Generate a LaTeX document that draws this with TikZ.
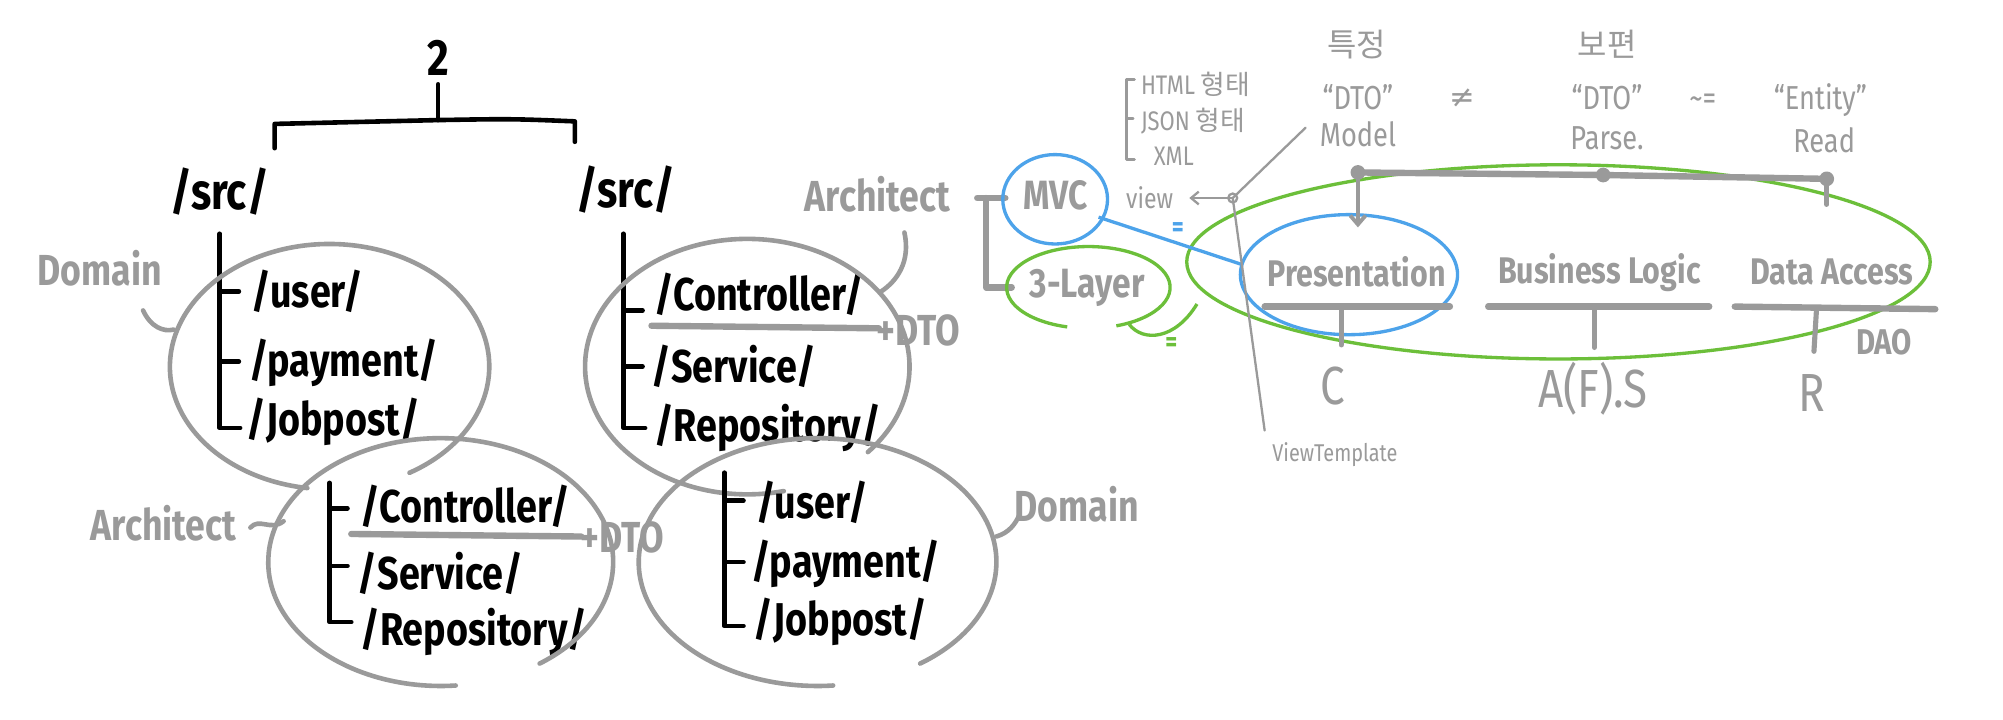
\documentclass[tikz,border=0pt]{standalone}
\usepackage{fontspec}
\setmainfont{Fira Sans}[FakeStretch=0.82]
\newfontfamily\kr{Noto Sans CJK KR}
\newfontfamily\dv{DejaVu Sans}
\usetikzlibrary{arrows.meta}
\definecolor{gc}{HTML}{9A9A9A}
\definecolor{bc}{HTML}{4DA3EA}
\definecolor{grc}{HTML}{6CBF3A}
\tikzset{
  bl/.style={line width=3.6pt, line cap=round, line join=round, black},
  gl/.style={line width=3.6pt, line cap=round, line join=round, gc},
  gthick/.style={line width=5pt, line cap=round, line join=round, gc},
  gthin/.style={line width=1.8pt, line cap=round, line join=round, gc},
  tree/.style={font=\bfseries\fontsize{36}{36}\selectfont, anchor=west, inner sep=0pt, text=black},
  biglab/.style={font=\bfseries\fontsize{34}{34}\selectfont, inner sep=0pt, text=gc},
  lay/.style={font=\bfseries\fontsize{29}{29}\selectfont, inner sep=0pt, text=gc},
  sm/.style={font=\fontsize{21}{21}\selectfont, inner sep=0pt, text=gc},
  hd/.style={font=\fontsize{26}{26}\selectfont, inner sep=0pt, text=gc},
  letter/.style={font=\fontsize{42}{42}\selectfont, inner sep=0pt, text=gc},
}
\begin{document}
\begin{tikzpicture}[x=1pt,y=-1pt]
\useasboundingbox[fill=white] (0,0) rectangle (1568,563);

% ---------------- top bracket ----------------
\node[font=\bfseries\fontsize{40}{40}\selectfont, inner sep=0pt] (two) at (343,45) {2};
\coordinate (brTop) at (343,66);
\coordinate (brMid) at (343,94);
\coordinate (brL) at (215,97);
\coordinate (brR) at (450,95);
\draw[bl] (brTop) -- (brMid);
\draw[bl] ([yshift=-19pt]brL) -- (brL) -- (brMid) .. controls (400,93) .. (brR) -- ([yshift=-16pt]brR);

\node[font=\bfseries\fontsize{40}{40}\selectfont, inner sep=0pt] (srcL) at (172,150) {/src/};
\node[font=\bfseries\fontsize{40}{40}\selectfont, inner sep=0pt] (srcR) at (490,148) {/src/};

% ---------------- left-top tree (Domain) ----------------
\draw[bl] (172,183) -- (172,335) -- (188,335);
\draw[bl] (172,228) -- (187,228);
\draw[bl] (172,283) -- (187,283);
\node[tree] (u1) at (197,228) {/user/};
\node[tree] (p1) at (195,284) {/payment/};
\node[tree] (j1) at (193,330) {/Jobpost/};
\draw[gl] ([shift={(-60:125pt and 96pt)}]258,287) arc[start angle=-60, end angle=262, x radius=125pt, y radius=96pt];
\node[biglab] (dom1) at (78,210) {Domain};
\draw[gl] (112,243) .. controls (118,256) and (128,260) .. (136,258);

% ---------------- right-top tree (Architect) ----------------
\draw[bl] (488,183) -- (488,335) -- (505,335);
\draw[bl] (488,243) -- (503,243);
\draw[bl] (488,287) -- (503,287);
\node[tree] (c1) at (512,230) {/Controller/};
\node[tree] (s1) at (510,287) {/Service/};
\node[tree] (r1) at (512,335) {/Repository/};
\draw[gthick] (510,255) -- (688,257);
\node[biglab, anchor=west] (dto1) at (686,259) {+DTO};
\draw[gl] ([shift={(-42:127pt and 100pt)}]585,287) arc[start angle=-42, end angle=283, x radius=127pt, y radius=100pt];
\node[biglab] (arch1) at (687,152) {Architect};
\draw[gl] (708,182) .. controls (713,205) and (702,220) .. (690,228);

% ---------------- left-bottom tree (Architect) ----------------
\draw[bl] (258,378) -- (258,487) -- (275,487);
\draw[bl] (258,398) -- (272,398);
\draw[bl] (258,443) -- (272,443);
\node[tree] (c2) at (282,396) {/Controller/};
\node[tree] (s2) at (280,449) {/Service/};
\node[tree] (r2) at (282,495) {/Repository/};
\draw[gthick] (275,418) -- (455,420);
\node[biglab, anchor=west] (dto2) at (454,421) {+DTO};
\draw[gl] ([shift={(-55:135pt and 97pt)}]345,440) arc[start angle=-55, end angle=275, x radius=135pt, y radius=97pt];
\node[biglab] (arch2) at (128,410) {Architect};
\draw[gl] (196,413) .. controls (203,405) and (212,416) .. (222,408);

% ---------------- right-bottom tree (Domain) ----------------
\draw[bl] (567,370) -- (567,490) -- (582,490);
\draw[bl] (567,392) -- (582,392);
\draw[bl] (567,440) -- (582,440);
\node[tree] (u2) at (592,393) {/user/};
\node[tree] (p2) at (588,441) {/payment/};
\node[tree] (j2) at (590,487) {/Jobpost/};
\draw[gl] ([shift={(-55:140pt and 97pt)}]640,440) arc[start angle=-55, end angle=275, x radius=140pt, y radius=97pt];
\node[biglab] (dom2) at (843,395) {Domain};
\draw[gl] (780,420) .. controls (790,417) and (795,410) .. (798,403);

% ---------------- right part ----------------
\draw[gthick] (765,155) -- (787,155);
\draw[gthick] (772,155) -- (772,225) -- (792,225);

\node[biglab, font=\bfseries\fontsize{32}{32}\selectfont] (mvc) at (826,153) {MVC};
\draw[line width=2.6pt, bc] (826,156) ellipse [x radius=41pt, y radius=35pt];
\node[biglab, font=\bfseries\fontsize{32}{32}\selectfont] (tl) at (851,225) {3-Layer};
\draw[line width=2.6pt, grc] ([shift={(-70:64pt and 32pt)}]852,225) arc[start angle=-70, end angle=255, x radius=64pt, y radius=32pt];
\draw[line width=2.6pt, grc] (884,254) .. controls (895,268) and (920,266) .. (937,238);

\draw[line width=2.6pt, grc] (1220,205) ellipse [x radius=291pt, y radius=76pt];
\draw[line width=2.6pt, bc] (1056,215) ellipse [x radius=85pt, y radius=47pt];
\draw[line width=2.6pt, bc] (860,170) -- (972,207);
\node[font=\bfseries\fontsize{22}{22}\selectfont, text=bc, inner sep=0pt] (eqb) at (922,180) {=};
\node[font=\bfseries\fontsize{22}{22}\selectfont, text=grc, inner sep=0pt] (eqg) at (917,270) {=};

\node[sm, font=\fontsize{22}{22}\selectfont] (view) at (900,155) {view};
\coordinate (hub) at (965,155);
\draw[gthin] (hub) circle (3.5pt);
\draw[gthin, -{Straight Barb[length=6pt,width=10pt]}] (hub) -- (931,155);
\draw[gthin] (hub) -- (1022,100);
\draw[gthin] (hub) -- (990,337);
\node[sm, font=\fontsize{19}{19}\selectfont] (vt) at (1045,356) {ViewTemplate};

\draw[gthin, line width=2.2pt] (888,62) -- (882,62) -- (882,125) -- (888,125);
\draw[gthin, line width=2.2pt] (882,93) -- (887,93);
\node[sm, anchor=west] (html) at (893,66) {HTML {\kr 형태}};
\node[sm, anchor=west] (json) at (893,95) {JSON {\kr 형태}};
\node[sm, anchor=west] (xml) at (903,122) {XML};

\node[hd, font=\kr\fontsize{25}{25}\selectfont] (tj) at (1062,35) {특정};
\node[hd, font=\kr\fontsize{25}{25}\selectfont] (bp) at (1258,35) {보편};
\node[hd] (dto3) at (1063,76) {“DTO”};
\node[hd, font=\dv\fontsize{24}{24}\selectfont] (neq) at (1145,77) {≠};
\node[hd] (dto4) at (1258,76) {“DTO”};
\node[hd] (apx) at (1333,80) {\char`\~=};
\node[hd] (ent) at (1425,78) {“Entity”};
\node[hd] (model) at (1063,105) {Model};
\node[hd] (parse) at (1258,108) {Parse.};
\node[hd] (read) at (1428,110) {Read};

\coordinate (k1) at (1063,135);
\coordinate (k2) at (1255,137);
\coordinate (k3) at (1430,140);
\draw[gthick] (k1) -- (k2) -- (k3);
\foreach \k in {k1,k2,k3} \draw[gthin, line width=2.5pt, fill=gc] (\k) circle (4.5pt);
\draw[gthin, line width=3pt, -{Straight Barb[length=7pt,width=12pt]}] (k1) -- (1063,178);
\draw[gthick, line width=4pt] (k3) -- (1430,160);

\node[lay] (pres) at (1062,213) {Presentation};
\node[lay] (bus) at (1252,213) {Business Logic};
\node[lay] (da) at (1434,213) {Data Access};
\draw[gthick] (990,240) -- (1135,240);
\draw[gthick] (1165,240) -- (1338,240);
\draw[gthick] (1358,240) -- (1515,242);
\draw[gthick, line width=4pt] (1050,240) -- (1050,270);
\draw[gthick, line width=4pt] (1248,240) -- (1248,272);
\draw[gthick, line width=4pt] (1422,242) -- (1420,275);
\node[letter] (cC) at (1043,302) {C};
\node[letter] (cS) at (1247,304) {A(F).S};
\node[letter] (cR) at (1418,308) {R};
\node[lay, font=\bfseries\fontsize{28}{28}\selectfont] (dao) at (1475,268) {DAO};
\end{tikzpicture}
\end{document}
